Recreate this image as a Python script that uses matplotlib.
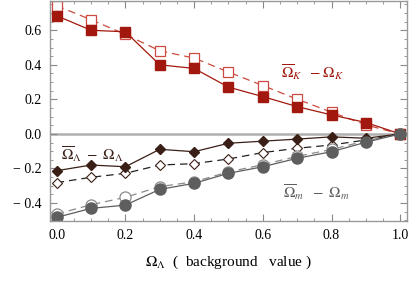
import matplotlib.pyplot as plt
import numpy as np

plt.rcParams['font.family'] = ['Liberation Serif', 'DejaVu Serif']
plt.rcParams['mathtext.fontset'] = 'stix'

# Omega_Lambda background value
x = [0.0, 0.1, 0.2, 0.3, 0.4, 0.5, 0.6, 0.7, 0.8, 0.9, 1.0]

# Omega_K : filled (solid line) and open (dashed line)
ok_solid = [0.684, 0.600, 0.591, 0.400, 0.379, 0.271, 0.216, 0.158, 0.110, 0.066, 0.0]
ok_dash = [0.742, 0.661, 0.576, 0.481, 0.439, 0.358, 0.280, 0.201, 0.126, 0.052, 0.0]

# Omega_Lambda
ol_solid = [-0.213, -0.180, -0.190, -0.089, -0.103, -0.054, -0.042, -0.030, -0.017, -0.025, 0.0]
ol_dash = [-0.282, -0.251, -0.228, -0.180, -0.172, -0.145, -0.108, -0.083, -0.064, -0.035, 0.0]

# Omega_m
om_solid = [-0.483, -0.431, -0.412, -0.321, -0.286, -0.228, -0.190, -0.141, -0.103, -0.048, 0.0]
om_dash = [-0.464, -0.410, -0.367, -0.305, -0.277, -0.220, -0.178, -0.130, -0.090, -0.040, 0.0]

red = '#a3180e'
red_l = '#cc4a40'
brown = '#3a1f16'
gray = '#5e5e5e'
gray_l = '#8a8a8a'

fig = plt.figure(figsize=(4.15, 2.81), dpi=100)
ax = fig.add_axes([0.12, 0.2135, 0.861, 0.784])

ax.axhline(0, color='#b0b0b0', lw=1.8, zorder=0)

# dashed / open-marker series
ax.plot(x, ok_dash, ls=(0, (6, 4)), color=red_l, lw=0.9, marker='s', ms=7,
        mfc='white', mec=red_l, mew=0.9)
ax.plot(x, ol_dash, ls=(0, (6, 4)), color='#222222', lw=0.9, marker='D', ms=5,
        mfc='white', mec=brown, mew=0.8)
ax.plot(x, om_dash, ls=(0, (6, 4)), color=gray_l, lw=0.9, marker='o', ms=8,
        mfc='white', mec=gray_l, mew=0.9)

# solid / filled-marker series
ax.plot(x, ok_solid, ls='-', color=red, lw=0.9, marker='s', ms=7, mfc=red, mec=red)
ax.plot(x, ol_solid, ls='-', color=brown, lw=0.9, marker='D', ms=5, mfc=brown, mec=brown)
ax.plot(x, om_solid, ls='-', color=gray, lw=0.9, marker='o', ms=8, mfc=gray, mec=gray)

ax.text(0.745, 0.36, r'$\overline{\Omega}_K\ \ -\Omega_K$', color=red, fontsize=11,
        ha='center', va='center')
ax.text(0.105, -0.115, r'$\overline{\Omega}_\Lambda\ -\ \Omega_\Lambda$', color=brown, fontsize=11,
        ha='center', va='center')
ax.text(0.755, -0.334, r'$\overline{\Omega}_m\ \ -\ \Omega_m$', color=gray, fontsize=11,
        ha='center', va='center')

ax.set_xlim(-0.02, 1.02)
ax.set_ylim(-0.504, 0.771)
ax.set_xticks(np.arange(0, 1.01, 0.2))
ax.set_xticks(np.arange(0, 1.01, 0.05), minor=True)
ax.set_yticks([-0.4, -0.2, 0.0, 0.2, 0.4, 0.6])
ax.set_yticks(np.arange(-0.5, 0.76, 0.05), minor=True)
ax.set_xticklabels(['0.0', '0.2', '0.4', '0.6', '0.8', '1.0'])
ax.set_yticklabels(['\u2212 0.4', '\u2212 0.2', '0.0', '0.2', '0.4', '0.6'])

ax.tick_params(which='both', direction='in', top=True, right=True, color='#888888',
               labelsize=10, pad=6)
ax.tick_params(which='major', length=5, width=0.8)
ax.tick_params(which='minor', length=2.5, width=0.6)
for s in ax.spines.values():
    s.set_color('#999999')
    s.set_linewidth(1.0)

ax.set_xlabel(r'$\Omega_\Lambda$  (  background   value )', fontsize=11, labelpad=8)

fig.savefig('out.png', dpi=100)
